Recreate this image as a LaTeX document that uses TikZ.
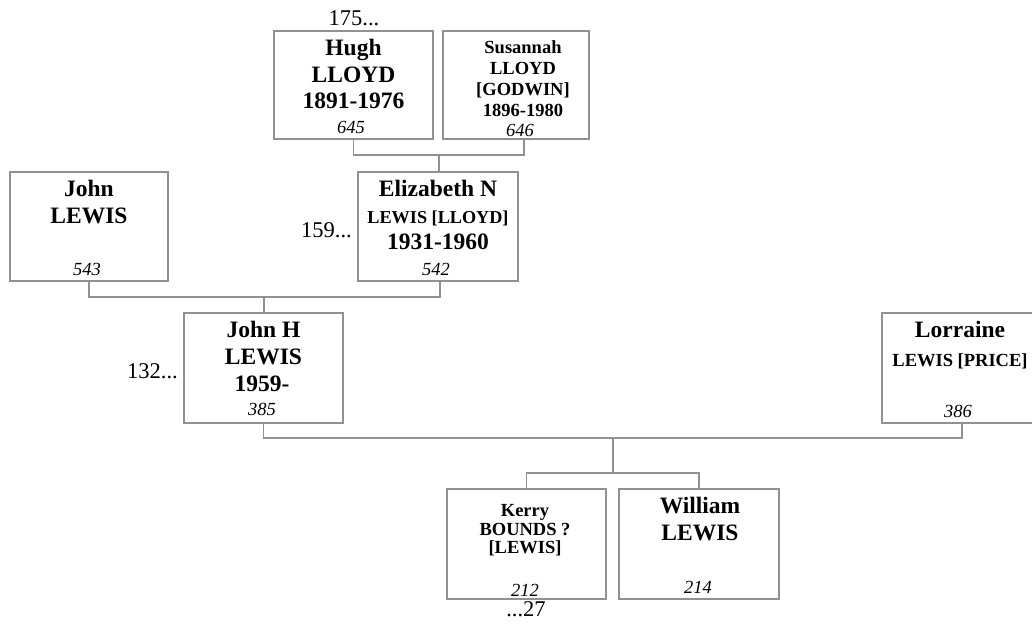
\documentclass[tikz,border=0pt]{standalone}
\usepackage{fontspec}
\setmainfont{Liberation Serif}
\definecolor{linegray}{RGB}{145,145,145}
\tikzset{
  box/.style={draw=linegray, line width=1.1pt, inner sep=0pt},
  conn/.style={draw=linegray, line width=1.1pt},
  big/.style={font=\fontsize{23.5}{27}\selectfont\bfseries, inner sep=0pt, anchor=base},
  small/.style={font=\fontsize{18.5}{21}\selectfont\bfseries, inner sep=0pt, anchor=base},
  mid/.style={font=\fontsize{18.2}{21}\selectfont\bfseries, inner sep=0pt, anchor=base},
  num/.style={font=\fontsize{18.5}{21}\selectfont\itshape, inner sep=0pt, anchor=base},
  ref/.style={font=\fontsize{22.5}{26}\selectfont, inner sep=0pt, anchor=base},
}
\begin{document}
\begin{tikzpicture}[x=1pt,y=-1pt]
\useasboundingbox (0,0) rectangle (1032,625);
% boxes
\node[box, minimum width=159pt, minimum height=108pt] (hugh) at (353.5,85) {};
\node[box, minimum width=146pt, minimum height=108pt] (sus) at (516,85) {};
\node[box, minimum width=158pt, minimum height=109pt] (john) at (89,226.5) {};
\node[box, minimum width=160pt, minimum height=109pt] (eliz) at (438,226.5) {};
\node[box, minimum width=159pt, minimum height=110pt] (johnh) at (263.5,368) {};
\node[box, minimum width=160pt, minimum height=110pt] (lor) at (962,368) {};
\node[box, minimum width=159pt, minimum height=110pt] (kerry) at (526.5,544) {};
\node[box, minimum width=160pt, minimum height=110pt] (will) at (699,544) {};
% texts
\node[ref] (r175) at (354,25) {175...};
\node[big] (hugh1) at (353.5,55) {Hugh};
\node[big] (hugh2) at (353.5,82) {LLOYD};
\node[big] (hugh3) at (353.5,108.5) {1891-1976};
\node[num] (hugh4) at (351,133) {645};
\node[small] (sus1) at (523,53) {Susannah};
\node[small] (sus2) at (523,74.5) {LLOYD};
\node[small] (sus3) at (523,95.5) {[GODWIN]};
\node[small] (sus4) at (523,116.5) {1896-1980};
\node[num] (sus5) at (520,136) {646};
\node[big] (john1) at (89,196) {John};
\node[big] (john2) at (89,223) {LEWIS};
\node[num] (john3) at (87,275) {543};
\node[ref, anchor=base east] (r159) at (352,237) {159...};
\node[big] (eliz1) at (438,196) {Elizabeth N};
\node[mid] (eliz2) at (438,223) {LEWIS [LLOYD]};
\node[big] (eliz3) at (438,249) {1931-1960};
\node[num] (eliz4) at (436,275) {542};
\node[ref, anchor=base east] (r132) at (178,378) {132...};
\node[big] (johnh1) at (263.5,337) {John H};
\node[big] (johnh2) at (263.5,364) {LEWIS};
\node[big] (johnh3) at (262,391) {1959-};
\node[num] (johnh4) at (262,415) {385};
\node[big] (lor1) at (960,337) {Lorraine};
\node[small] (lor2) at (960,366) {LEWIS [PRICE]};
\node[num] (lor3) at (958,417) {386};
\node[small] (kerry1) at (525,516) {Kerry};
\node[small] (kerry2) at (525,535) {BOUNDS ?};
\node[small] (kerry3) at (525,553.5) {[LEWIS]};
\node[num] (kerry4) at (525,596) {212};
\node[ref] (r27) at (526,616) {...27};
\node[big] (will1) at (700,513) {William};
\node[big] (will2) at (700,540) {LEWIS};
\node[num] (will3) at (698,593) {214};
% junction points
\coordinate (m1) at (439,155);
\coordinate (m2) at (264,297);
\coordinate (m3) at (613,438);
\coordinate (m4) at (613,473);
% connectors
\draw[conn] (hugh.south) |- (m1) -| ([xshift=8pt]sus.south);
\draw[conn] (m1) -- (m1 |- eliz.north);
\draw[conn] (john.south) |- (m2) -| ([xshift=2pt]eliz.south);
\draw[conn] (m2) -- (m2 |- johnh.north);
\draw[conn] (johnh.south) |- (m3) -| (lor.south);
\draw[conn] (m3) -- (m4);
\draw[conn] (kerry.north) |- (m4) -| (will.north);
\end{tikzpicture}
\end{document}
